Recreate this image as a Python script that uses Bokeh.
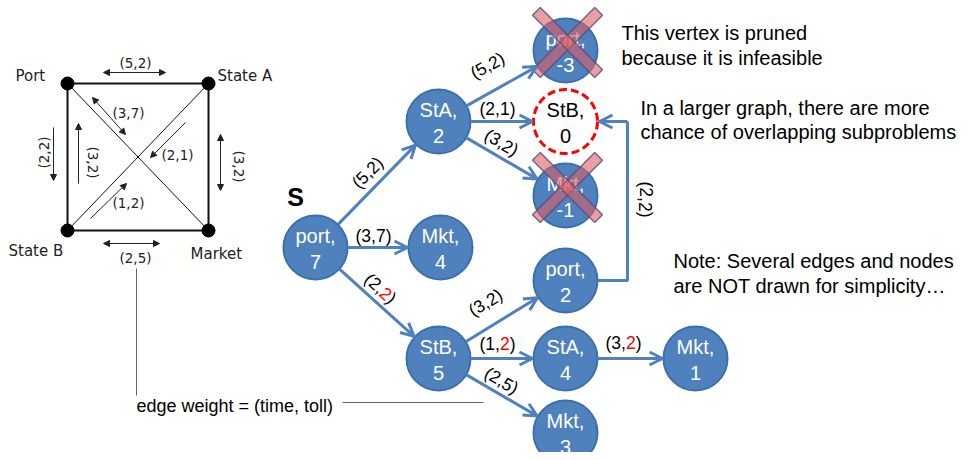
import math
from bokeh.plotting import figure
from bokeh.models import Range1d, Arrow, OpenHead, NormalHead, ColumnDataSource
from bokeh.core.properties import value
from bokeh.embed import file_html
from bokeh.resources import INLINE

# ---------------- data ----------------
# Left: the small road graph
city_names = ["Port", "State A", "State B", "Market"]
city_x = [67, 208, 67, 208]
city_y = [83, 83, 230, 230]
city_label_x = [15, 217, 8, 190]
city_label_y = [75, 75, 250, 253]
road_from = [0, 0, 1, 2, 0, 1]
road_to = [1, 2, 3, 3, 3, 2]
road_diag = [False, False, False, False, True, True]

small_weight_text = ["(5,2)", "(3,7)", "(2,1)", "(1,2)", "(2,2)", "(3,2)", "(3,2)", "(2,5)"]
small_weight_x = [135, 128, 177, 128, 43, 92, 238, 135]
small_weight_y = [62, 112, 154, 202, 152, 162, 166, 257]
small_weight_angle = [0, 0, 0, 0, 90, -90, -90, 0]
small_arrow_x0 = [103, 92, 185, 90, 53, 78, 220, 103]
small_arrow_y0 = [72, 97, 122, 218, 127, 183, 134, 243]
small_arrow_x1 = [165, 125, 150, 126, 53, 78, 220, 159]
small_arrow_y1 = [72, 134, 157, 183, 180, 123, 190, 243]
small_arrow_both = [True, True, False, False, False, False, True, True]

# Right: the search tree of (vertex, remaining toll budget)
node_id = ["port7", "StA2", "Mkt4", "portm3", "StB0", "Mktm1", "port2", "StB5", "StA4", "Mkt3", "Mkt1"]
node_line1 = ["port,", "StA,", "Mkt,", "port,", "StB,", "Mkt,", "port,", "StB,", "StA,", "Mkt,", "Mkt,"]
node_line2 = ["7", "2", "4", "-3", "0", "-1", "2", "5", "4", "3", "1"]
node_x = [315, 438, 440, 565, 565, 565, 565, 438, 565, 565, 695]
node_y = [247, 121, 247, 50, 121, 195, 280, 358, 358, 432, 358]
node_state = ["ok", "ok", "ok", "pruned", "overlap", "pruned", "ok", "ok", "ok", "ok", "ok"]

edge_from = ["port7", "StA2", "StA2", "StA2", "port7", "port7", "StB5", "StB5", "StB5", "StA4"]
edge_to = ["StA2", "portm3", "StB0", "Mktm1", "Mkt4", "StB5", "port2", "StA4", "Mkt3", "Mkt1"]
edge_time = ["5", "5", "2", "3", "3", "2", "3", "1", "2", "3"]
edge_toll = ["2", "2", "1", "2", "7", "2", "2", "2", "5", "2"]
edge_toll_red = [False, False, False, False, False, True, False, True, False, True]
edge_label_x = [367, 487, 497, 501, 373, 380, 485, 497, 501, 623]
edge_label_y = [172, 65, 108, 142, 235, 288, 302, 343, 380, 342]

loop_from, loop_to = "port2", "StB0"
loop_time, loop_toll = "2", "2"
loop_x = 627
loop_label_x, loop_label_y = 645, 199

notes = ["This vertex is pruned", "because it is infeasible",
         "In a larger graph, there are more", "chance of overlapping subproblems",
         "Note: Several edges and nodes", "are NOT drawn for simplicity\u2026"]
notes_x = [621, 621, 640, 640, 673, 673]
notes_y = [32, 57, 107, 131, 260, 285]

legend_text = "edge weight = (time, toll)"

# ---------------- drawing ----------------
BLUE = "#4F81BD"
BLUE_EDGE = "#3A6FB0"
FONT = value("Liberation Sans")
SMALL_FONT = value("DejaVu Sans")
R = 32

p = figure(width=960, height=452, x_range=Range1d(0, 960), y_range=Range1d(452, 0),
           x_axis_type=None, y_axis_type=None, toolbar_location=None,
           output_backend="svg", min_border=0)
p.outline_line_color = None
p.xgrid.visible = False
p.ygrid.visible = False

# ---- left small graph ----
for f, t, d in zip(road_from, road_to, road_diag):
    p.line([city_x[f], city_x[t]], [city_y[f], city_y[t]], line_color="#111111",
           line_width=1 if d else 2)
p.scatter(city_x, city_y, size=13, marker="circle", fill_color="black", line_color="black")
p.text(city_label_x, city_label_y, text=city_names, text_font=SMALL_FONT,
       text_font_size="15px", text_color="#222222", text_align="left", text_baseline="middle")
p.text(small_weight_x, small_weight_y, text=small_weight_text,
       angle=[math.radians(a) for a in small_weight_angle],
       text_font=SMALL_FONT, text_font_size="13.5px", text_color="#222222",
       text_align="center", text_baseline="middle")
for x0, y0, x1, y1, both in zip(small_arrow_x0, small_arrow_y0, small_arrow_x1,
                                small_arrow_y1, small_arrow_both):
    head = lambda: NormalHead(size=6, fill_color="#222222", line_color="#222222", line_width=1)
    p.add_layout(Arrow(x_start=x0, y_start=y0, x_end=x1, y_end=y1,
                       line_color="#222222", line_width=1,
                       end=head(), start=head() if both else None))

# connector to legend text
p.line([136, 136], [268, 395], line_color="#666666", line_width=1)
p.line([342, 483], [402, 402], line_color="#666666", line_width=1)
p.text([136], [405], text=[legend_text], text_font=FONT, text_font_size="18px",
       text_color="black", text_align="left", text_baseline="middle")

# ---- right search tree ----
pos = {n: (x, y) for n, x, y in zip(node_id, node_x, node_y)}

xs0, ys0, xs1, ys1 = [], [], [], []
for f, t in zip(edge_from, edge_to):
    (x0, y0), (x1, y1) = pos[f], pos[t]
    L = math.hypot(x1 - x0, y1 - y0)
    ux, uy = (x1 - x0) / L, (y1 - y0) / L
    xs0.append(x0 + R * ux); ys0.append(y0 + R * uy)
    xs1.append(x1 - (R + 1) * ux); ys1.append(y1 - (R + 1) * uy)
src = ColumnDataSource(dict(x0=xs0, y0=ys0, x1=xs1, y1=ys1))
p.add_layout(Arrow(source=src, x_start="x0", y_start="y0", x_end="x1", y_end="y1",
                   line_color=BLUE, line_width=3,
                   end=OpenHead(size=13, line_color=BLUE, line_width=3)))

# elbow edge port,2 -> StB,0
(px, py), (bx, by) = pos[loop_from], pos[loop_to]
p.line([px + R, loop_x, loop_x], [py, py, by], line_color=BLUE, line_width=3)
p.add_layout(Arrow(x_start=loop_x, y_start=by, x_end=bx + R + 2, y_end=by,
                   line_color=BLUE, line_width=3,
                   end=OpenHead(size=13, line_color=BLUE, line_width=3)))

# nodes
ok_x = [x for x, s in zip(node_x, node_state) if s != "overlap"]
ok_y = [y for y, s in zip(node_y, node_state) if s != "overlap"]
p.circle(ok_x, ok_y, radius=R, fill_color=BLUE, line_color=BLUE_EDGE, line_width=2)
ov_x = [x for x, s in zip(node_x, node_state) if s == "overlap"]
ov_y = [y for y, s in zip(node_y, node_state) if s == "overlap"]
p.circle(ov_x, ov_y, radius=R, fill_color="white", line_color="#FF0000",
         line_width=3, line_dash="8 4")

tcol = ["black" if s == "overlap" else "white" for s in node_state]
p.text(node_x, [y - 12 for y in node_y], text=node_line1, text_color=tcol,
       text_font=FONT, text_font_size="20px", text_align="center", text_baseline="middle")
p.text(node_x, [y + 14 for y in node_y], text=node_line2, text_color=tcol,
       text_font=FONT, text_font_size="20px", text_align="center", text_baseline="middle")

# pruned crosses
pr_x = [x + 2 for x, s in zip(node_x, node_state) if s == "pruned"]
pr_y = [y - 8 for y, s in zip(node_y, node_state) if s == "pruned"]
cx = pr_x + pr_x
cy = pr_y + pr_y
ca = [math.pi / 4] * len(pr_x) + [-math.pi / 4] * len(pr_x)
p.rect(cx, cy, width=88, height=11, angle=ca, width_units="screen", height_units="screen",
       fill_color="#DC5F64", fill_alpha=0.6, line_color="#5A4A78", line_alpha=0.8, line_width=1.5)

# edge labels with red tolls
CW = {"(": 0.333, ")": 0.333, ",": 0.278}
FS = 17.5


def parts_pos(parts, cx_, cy_, ang):
    ux, uy = math.cos(ang), -math.sin(ang)
    widths = [sum(CW.get(c, 0.556) for c in t) * FS for t, _ in parts]
    s = -sum(widths) / 2
    out = []
    for (t, c), w in zip(parts, widths):
        out.append((cx_ + s * ux, cy_ + s * uy, t, c, ang))
        s += w
    return out


pieces = []
for f, t, tm, tl, red, lx, ly in zip(edge_from, edge_to, edge_time, edge_toll,
                                     edge_toll_red, edge_label_x, edge_label_y):
    (x0, y0), (x1, y1) = pos[f], pos[t]
    ang = math.atan2(-(y1 - y0), x1 - x0)
    if abs(y1 - y0) < 3:
        ang = 0.0
    parts = [("(" + tm + ",", "black"), (tl, "#FF0000" if red else "black"), (")", "black")]
    pieces += parts_pos(parts, lx, ly, ang)
pieces += parts_pos([("(" + loop_time + ",", "black"), (loop_toll, "black"), (")", "black")],
                    loop_label_x, loop_label_y, -math.pi / 2)

p.text([q[0] for q in pieces], [q[1] for q in pieces], text=[q[2] for q in pieces],
       text_color=[q[3] for q in pieces], angle=[q[4] for q in pieces],
       text_font=FONT, text_font_size=f"{FS}px", text_align="left", text_baseline="middle")

p.text([295], [196], text=["S"], text_font=FONT, text_font_style="bold",
       text_font_size="25px", text_color="black", text_align="center", text_baseline="middle")

p.text(notes_x, notes_y, text=notes, text_font=FONT, text_font_size="20px",
       text_color="black", text_align="left", text_baseline="middle")

open("out.html", "w").write(file_html(p, INLINE))
